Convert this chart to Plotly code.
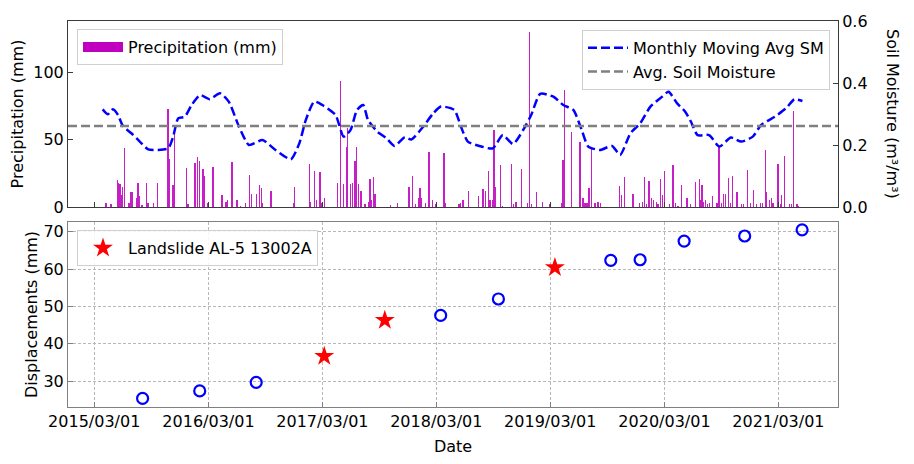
import pandas as pd
import plotly.graph_objects as go

# ---------------- data ----------------
RECORD_START = "2015-03-01"

# daily precipitation events: day number since RECORD_START, amount in mm
PRECIP_DAY = [0, 38, 54, 74, 76, 79, 83, 86, 90, 97, 111, 118, 123, 135, 140, 143, 153, 168, 172, 191,
              202, 236, 242, 252, 257, 295, 300, 323, 330, 338, 349, 354, 364, 381, 409,
              422, 428, 441, 444, 457, 468, 484, 498, 505, 519, 530, 535, 539, 566, 639, 642,
              689, 694, 706, 713, 723, 729, 737, 780, 788, 799, 809, 812, 820, 828, 836, 841,
              847, 855, 868, 879, 884, 889, 895, 900,
              950, 972, 1009, 1020, 1030, 1041, 1044, 1049, 1062, 1073, 1075, 1084, 1094, 1121,
              1126, 1169, 1174, 1182, 1199, 1231, 1246, 1254, 1263, 1268, 1276, 1281, 1286,
              1302, 1308, 1338, 1343, 1351, 1368, 1388, 1395,
              1401, 1417, 1436, 1459, 1497, 1502, 1507, 1529, 1556, 1566, 1572, 1579, 1585,
              1593, 1604, 1614, 1622, 1684, 1689, 1700, 1726, 1748, 1756, 1764, 1769, 1777,
              1785, 1792, 1801, 1806, 1814, 1821, 1828, 1844, 1854, 1862, 1870, 1881,
              1899, 1910, 1926, 1939, 1942, 1947, 1953, 1958, 1965, 1972, 1981, 1995, 2002,
              2009, 2017, 2022, 2033, 2038, 2046, 2059, 2073, 2081, 2094, 2102, 2113, 2123,
              2134, 2142, 2150, 2155, 2164, 2170, 2175, 2191, 2198, 2202, 2212, 2228, 2235,
              2241, 2252, 2257]
PRECIP_MM = [2, 3, 2, 20, 18, 10, 17, 9, 15, 44, 3, 11, 11, 7, 18, 8, 1.5, 18, 3, 3,
             18, 73, 35.6, 16, 54, 29, 2, 33, 37, 34, 28.5, 23, 3, 30, 9,
             4, 5, 33.5, 19, 5, 1, 3, 23.5, 10, 10, 16, 14, 3, 12, 3, 14.5,
             32, 4, 27, 5, 26, 3, 7, 18, 93.8, 17, 44.8, 58.5, 17, 17.5, 34.4, 44.8,
             17, 12, 2, 4, 21, 5, 22.5, 10,
             1.5, 3, 14.5, 23, 2, 7, 14, 7, 3, 41, 23, 5, 2, 40,
             3, 2, 3, 5, 11.6, 8, 13, 12, 27, 5, 5, 57, 14.5,
             31, 1, 32, 2, 4, 28, 3, 130,
             2, 11, 4, 2, 3, 35, 87, 56, 48.5, 7, 3, 3, 14,
             43.6, 3, 4, 3, 15.6, 9, 22, 10, 3, 4, 22.3, 2, 19,
             7, 5, 4, 2, 21, 9, 27, 2, 31, 3, 1, 16,
             7, 2, 18.5, 20.8, 5, 16.5, 4, 5, 2, 3, 8, 3, 44.8,
             3, 10, 10, 21.3, 3, 23, 11, 2, 2.5, 27.6, 3, 12.6, 2,
             3, 3, 42.3, 11.5, 5, 7, 3, 31.6, 2, 9, 37.9, 2, 2,
             71.5, 2, 1]

# monthly moving average of soil moisture (m3/m3)
SM_DATE = ["2015-03-28", "2015-04-14", "2015-04-30", "2015-05-16", "2015-06-01", "2015-06-28",
           "2015-07-25", "2015-08-21", "2015-09-22", "2015-10-24", "2015-11-09", "2015-11-25",
           "2015-12-16", "2016-01-07", "2016-02-03", "2016-03-05", "2016-04-07", "2016-05-05",
           "2016-06-07", "2016-07-09", "2016-08-21", "2016-10-02", "2016-11-20", "2016-12-17",
           "2017-01-07", "2017-02-03", "2017-03-01", "2017-04-12", "2017-05-08", "2017-05-30",
           "2017-06-20", "2017-07-10", "2017-07-25", "2017-08-24", "2017-09-22", "2017-10-18",
           "2017-11-20", "2017-12-11", "2018-01-18", "2018-02-19", "2018-03-16", "2018-04-28",
           "2018-05-19", "2018-06-10", "2018-07-17", "2018-08-29", "2018-09-30", "2018-11-02",
           "2018-12-04", "2018-12-30", "2019-01-28", "2019-03-11", "2019-04-12", "2019-05-14",
           "2019-06-10", "2019-07-01", "2019-08-08", "2019-09-15", "2019-10-11", "2019-11-13",
           "2019-12-14", "2020-01-16", "2020-02-23", "2020-03-14", "2020-04-10", "2020-05-06",
           "2020-05-25", "2020-06-15", "2020-07-22", "2020-08-24", "2020-09-30", "2020-11-02",
           "2020-12-09", "2021-01-05", "2021-02-17", "2021-03-25", "2021-04-21", "2021-05-17"]
SM_VALUE = [0.315, 0.299, 0.315, 0.297, 0.261, 0.238,
            0.211, 0.186, 0.184, 0.189, 0.227, 0.286,
            0.291, 0.329, 0.361, 0.348, 0.367, 0.340,
            0.259, 0.200, 0.216, 0.184, 0.154, 0.205,
            0.281, 0.340, 0.329, 0.297, 0.227, 0.248,
            0.313, 0.329, 0.281, 0.243, 0.222, 0.197,
            0.225, 0.218, 0.259, 0.302, 0.324, 0.313,
            0.259, 0.211, 0.197, 0.189, 0.232, 0.203,
            0.248, 0.297, 0.365, 0.356, 0.329, 0.313,
            0.248, 0.195, 0.184, 0.197, 0.168, 0.238,
            0.270, 0.324, 0.356, 0.372, 0.335, 0.308,
            0.275, 0.232, 0.232, 0.195, 0.224, 0.211,
            0.227, 0.265, 0.291, 0.318, 0.347, 0.342]
SM_MEAN = 0.261

# InSAR displacement time series (mm)
DISP_DATE = ["2015-08-03", "2016-02-02", "2016-08-01", "2018-03-15", "2018-09-16",
             "2019-09-11", "2019-12-14", "2020-05-03", "2020-11-13", "2021-05-16"]
DISP_MM = [25.4, 27.4, 29.7, 47.6, 52.0, 62.35, 62.5, 67.5, 68.85, 70.5]
# acquisitions bracketing landslide events
EVENT_DATE = ["2017-03-07", "2017-09-17", "2019-03-16"]
EVENT_MM = [36.7, 46.3, 60.4]

TICK_DATES = ["2015-03-01", "2016-03-01", "2017-03-01", "2018-03-01",
              "2019-03-01", "2020-03-01", "2021-03-01"]
X_RANGE = ["2014-12-07", "2021-09-08"]

# ---------------- figure ----------------
FONT = "DejaVu Sans"
BAR_COLOR = "#c61fc6"
precip_dates = pd.Timestamp(RECORD_START) + pd.to_timedelta(PRECIP_DAY, unit="D")
DAY_MS = 86400000

fig = go.Figure()

# thin daily bars; the legend key is drawn by a separate empty trace as a wide patch
fig.add_trace(go.Bar(
    x=precip_dates, y=PRECIP_MM, width=1.0 * DAY_MS,
    marker=dict(color=BAR_COLOR, line=dict(width=0)),
    showlegend=False, xaxis="x", yaxis="y",
))
fig.add_trace(go.Scatter(
    x=[None], y=[None], mode="lines",
    line=dict(color="#bf00bf", width=12),
    name="Precipitation (mm)", xaxis="x", yaxis="y", legend="legend",
))
fig.add_trace(go.Scatter(
    x=SM_DATE, y=SM_VALUE, mode="lines",
    line=dict(color="#0000ff", width=2.5, dash="9px,4px", shape="spline", smoothing=0.6),
    name="Monthly Moving Avg SM", xaxis="x", yaxis="y2", legend="legend2",
))
fig.add_trace(go.Scatter(
    x=X_RANGE, y=[SM_MEAN, SM_MEAN], mode="lines",
    line=dict(color="#808080", width=2.5, dash="9px,4px"),
    name="Avg. Soil Moisture", xaxis="x", yaxis="y2", legend="legend2",
))

fig.add_trace(go.Scatter(
    x=DISP_DATE, y=DISP_MM, mode="markers",
    marker=dict(symbol="circle-open", size=11, color="#0000ff", line=dict(width=2.2, color="#0000ff")),
    showlegend=False, xaxis="x2", yaxis="y3",
))
fig.add_trace(go.Scatter(
    x=EVENT_DATE, y=EVENT_MM, mode="markers",
    marker=dict(symbol="star", size=15, color="#ff0000", line=dict(width=0)),
    name="Landslide AL-5 13002A", xaxis="x2", yaxis="y3", legend="legend3",
))

tickfont = dict(family=FONT, size=16, color="#000000")
top_frame = "#3a3a3a"
bot_frame = "#808080"

common_x = dict(
    type="date", range=X_RANGE, tickvals=TICK_DATES, tickformat="%Y/%m/%d",
    ticks="inside", ticklen=5, showline=True, mirror=True, tickfont=tickfont,
)

legend_style = dict(
    bgcolor="rgba(255,255,255,0.85)", bordercolor="#d0d0d0", borderwidth=1,
    font=dict(family=FONT, size=16, color="#000000"), itemwidth=40,
    tracegroupgap=0,
)

fig.update_layout(
    width=914, height=464,
    margin=dict(l=68, r=76, t=21, b=57),
    paper_bgcolor="white", plot_bgcolor="white",
    font=dict(family=FONT, size=16, color="#000000"),
    bargap=0,
    xaxis=dict(common_x, domain=[0, 1], anchor="y", showticklabels=False,
               linecolor=top_frame, tickcolor=top_frame, showgrid=False),
    yaxis=dict(domain=[0.5181, 1], range=[0, 138], tickvals=[0, 50, 100],
               ticks="inside", ticklen=5, showline=True, linecolor=top_frame,
               tickcolor=top_frame, showgrid=False, zeroline=False, tickfont=tickfont,
               title=dict(text="Precipitation (mm)", font=dict(family=FONT, size=16), standoff=5)),
    yaxis2=dict(overlaying="y", side="right", anchor="x", range=[0, 0.6],
                tickvals=[0, 0.2, 0.4, 0.6], tickformat=".1f",
                ticks="inside", ticklen=5, showline=True, linecolor=top_frame,
                tickcolor=top_frame, showgrid=False, zeroline=False, tickfont=tickfont),
    xaxis2=dict(common_x, domain=[0, 1], anchor="y3",
                linecolor=bot_frame, tickcolor=bot_frame,
                showgrid=True, gridcolor="#b8b8b8", gridwidth=1, griddash="3px,2px",
                title=dict(text="Date", font=dict(family=FONT, size=16), standoff=10)),
    yaxis3=dict(domain=[0, 0.4793], range=[23.1, 72.6], tickvals=[30, 40, 50, 60, 70],
                anchor="x2", ticks="inside", ticklen=5, showline=True, mirror=True,
                linecolor=bot_frame, tickcolor=bot_frame, zeroline=False,
                showgrid=True, gridcolor="#b8b8b8", gridwidth=1, griddash="3px,2px",
                tickfont=tickfont,
                title=dict(text="Displacements (mm)", font=dict(family=FONT, size=16), standoff=1)),
    legend=dict(legend_style, x=0.0117, y=0.979, xanchor="left", yanchor="top"),
    legend2=dict(legend_style, x=0.9896, y=0.977, xanchor="right", yanchor="top"),
    legend3=dict(legend_style, x=0.0117, y=0.4585, xanchor="left", yanchor="top"),
    showlegend=True,
)

# right-hand axis label reads top-to-bottom
fig.add_annotation(
    text="Soil Moisture (m³/m³)", xref="paper", yref="paper",
    x=1.0714, y=0.759, xanchor="center", yanchor="middle",
    textangle=90, showarrow=False, font=dict(family=FONT, size=16, color="#000000"),
)

fig.write_html("out.html")
